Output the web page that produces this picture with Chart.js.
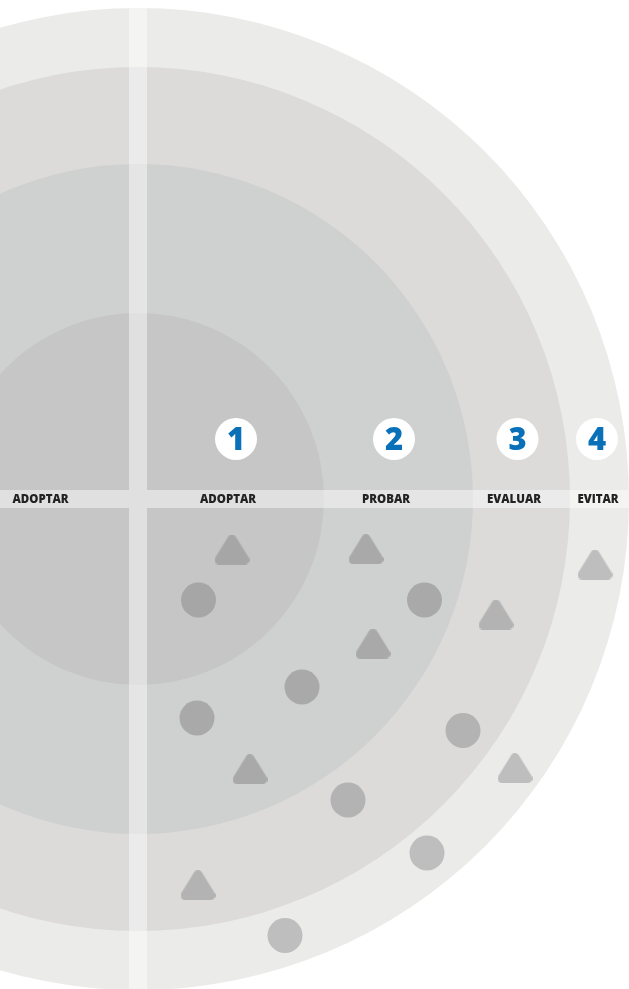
<!DOCTYPE html>
<html>
<head>
<meta charset="utf-8">
<script src="https://cdn.jsdelivr.net/npm/chart.js@4/dist/chart.umd.min.js"></script>
<style>
html,body{margin:0;padding:0;background:#ffffff;}
canvas{display:block;}
</style>
</head>
<body>
<canvas id="radar" width="629" height="989"></canvas>
<script>
// ---- data ----
const ringNames = ['ADOPTAR', 'PROBAR', 'EVALUAR', 'EVITAR'];
const ringNumbers = ['1', '2', '3', '4'];
const ringRadii = [186, 335, 432, 491];
const leftLabel = 'ADOPTAR';

const triangleX = [94, 228, 235, 112, 358, 377, 60, 457];
const triangleY = [-50.5, -50, -144.5, -270, -115.5, -269, -386, -65.5];

const circleX = [60.5, 286.5, 164, 59, 325, 210, 289, 147];
const circleY = [-101, -101, -188, -219, -231.5, -301, -354, -436.5];

// ---- styles ----
const ringFill = ['#c6c6c6', '#cfd0d0', '#dcdbda', '#ebebea'];
const markColor = ['#a6a6a6', '#a9a9a9', '#b3b3b3', '#bebebe'];
const bandHalf = 9;
const labelShift = [-7.5, -12.5, -7.5, -1.5];
const badgeShift = [0.5, -4.5, -4, -2.5];

function ringIndex(x, y) {
  const d = Math.sqrt(x * x + y * y);
  for (let i = 0; i < ringRadii.length; i++) if (d <= ringRadii[i]) return i;
  return ringRadii.length - 1;
}

function makeTriangle(color) {
  const c = document.createElement('canvas');
  c.width = 35; c.height = 30;
  const g = c.getContext('2d');
  g.fillStyle = color; g.strokeStyle = color;
  g.lineWidth = 9; g.lineJoin = 'round';
  g.beginPath();
  g.moveTo(17.5, 4.5); g.lineTo(30.5, 25.5); g.lineTo(4.5, 25.5); g.closePath();
  g.fill(); g.stroke();
  return c;
}
const triImgs = markColor.map(makeTriangle);

const triData = triangleX.map((x, i) => ({x: x, y: triangleY[i]}));
const cirData = circleX.map((x, i) => ({x: x, y: circleY[i]}));

function ringMid(i) {
  const inner = i === 0 ? bandHalf : ringRadii[i - 1];
  return (inner + ringRadii[i]) / 2;
}

const radarBackground = {
  id: 'radarBackground',
  beforeDatasetsDraw(chart) {
    const ctx = chart.ctx;
    const xs = chart.scales.x, ys = chart.scales.y;
    const cx = xs.getPixelForValue(0), cy = ys.getPixelForValue(0);
    const px = v => xs.getPixelForValue(v) - cx;
    ctx.save();
    for (let i = ringRadii.length - 1; i >= 0; i--) {
      ctx.beginPath();
      ctx.arc(cx, cy, px(ringRadii[i]), 0, Math.PI * 2);
      ctx.fillStyle = ringFill[i];
      ctx.fill();
    }
    const R = px(ringRadii[ringRadii.length - 1]);
    const bh = px(bandHalf);
    ctx.beginPath();
    ctx.arc(cx, cy, R, 0, Math.PI * 2);
    ctx.clip();
    ctx.fillStyle = 'rgba(255,255,255,0.45)';
    ctx.beginPath();
    ctx.rect(cx - R, cy - bh, 2 * R, 2 * bh);
    ctx.rect(cx - bh, cy - R, 2 * bh, R - bh);
    ctx.rect(cx - bh, cy + bh, 2 * bh, R - bh);
    ctx.fill();
    ctx.restore();
  }
};

const radarLabels = {
  id: 'radarLabels',
  beforeDatasetsDraw(chart) {
    const ctx = chart.ctx;
    const xs = chart.scales.x, ys = chart.scales.y;
    const cy = ys.getPixelForValue(0);
    ctx.save();
    ctx.textAlign = 'center';
    ctx.textBaseline = 'middle';
    ctx.fillStyle = '#222222';
    ctx.font = "800 11.5px 'Open Sans'";
    for (let i = 0; i < ringNames.length; i++) {
      ctx.fillText(ringNames[i], xs.getPixelForValue(ringMid(i)) + labelShift[i], cy + 1);
    }
    ctx.fillText(leftLabel, xs.getPixelForValue(-ringMid(0)), cy + 1);
    const by = ys.getPixelForValue(60);
    const br = xs.getPixelForValue(21) - xs.getPixelForValue(0);
    for (let i = 0; i < ringNumbers.length; i++) {
      const bx = xs.getPixelForValue(ringMid(i)) + badgeShift[i];
      ctx.beginPath();
      ctx.arc(bx, by, br, 0, Math.PI * 2);
      ctx.fillStyle = '#ffffff';
      ctx.fill();
      ctx.fillStyle = '#0a71b9';
      ctx.font = "800 31px 'Open Sans'";
      ctx.fillText(ringNumbers[i], bx, by + 2);
    }
    ctx.restore();
  }
};

new Chart(document.getElementById('radar'), {
  type: 'scatter',
  data: {
    datasets: [
      {
        label: 'triangles',
        data: triData,
        pointStyle: ctx => triImgs[ringIndex(ctx.raw.x, ctx.raw.y)],
        pointRadius: 17,
        pointHoverRadius: 17
      },
      {
        label: 'circles',
        data: cirData,
        pointStyle: 'circle',
        pointRadius: 17.5,
        pointHoverRadius: 17.5,
        pointBorderWidth: 0,
        borderWidth: 0,
        pointBackgroundColor: ctx => markColor[ringIndex(ctx.raw.x, ctx.raw.y)],
        backgroundColor: ctx => markColor[ringIndex(ctx.raw.x, ctx.raw.y)]
      }
    ]
  },
  options: {
    responsive: false,
    animation: false,
    events: [],
    layout: {padding: 0, autoPadding: false},
    plugins: {legend: {display: false}, tooltip: {enabled: false}},
    scales: {
      x: {type: 'linear', min: -138, max: 491, display: false},
      y: {type: 'linear', min: -490, max: 499, display: false}
    }
  },
  plugins: [radarBackground, radarLabels]
});
</script>
</body>
</html>
